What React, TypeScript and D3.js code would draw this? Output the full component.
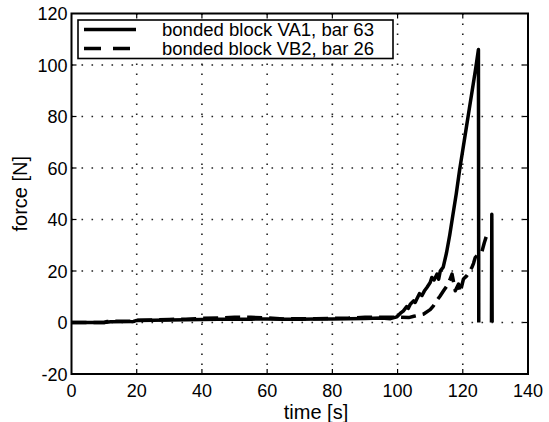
import React, { useEffect, useRef } from 'react';
import * as d3 from 'd3';

// VA1, bar 63 (solid)
const timeVA1 = [0, 6, 10, 12, 19, 20, 25, 30, 35, 40, 45, 50, 55, 60, 65, 70, 75, 80, 85, 90, 95, 97.8,
  99.8, 100.8, 101.8, 102.8, 103.3, 103.9, 104.9, 105.4, 105.9, 106.7, 107.5, 108.2, 109, 110, 110.5, 111.2, 112.1, 112.6, 113.1,
  114, 115, 116, 117, 118, 119, 120, 121, 122, 123, 124, 124.8, 124.9];
const forceVA1 = [0, 0, 0, 0.3, 0.4, 0.8, 0.9, 1.0, 1.1, 1.2, 1.3, 1.3, 1.3, 1.4, 1.3, 1.3, 1.4, 1.4, 1.5, 1.6, 1.7, 1.5,
  2.2, 3.5, 4.5, 6.2, 5.5, 7.1, 8.4, 7.8, 9.1, 11.2, 10.5, 12.2, 13.6, 15.5, 17.5, 16.5, 18.8, 16.8, 20,
  21.5, 27, 34, 42, 50, 59, 67, 75, 83, 91, 99, 106, 0];

// VB2, bar 26 (dashed), NaN = gap
const timeVB2 = [0, 10, 11, 15, 19, 20, 25, 30, 35, 40, 45, 50, 55, 60, 65, 70, 75, 80, 85, 90, 95, 98, 100,
  103.4, 105, 107, 108, 110, 111, 112, 113, 114.1, 115, 116, 116.7, 117.7, 118.7, 119.2, 120.2, 121.2, 122.8,
  123.3, 123.8, 124.8, 125.8, 126.6, 127.6, NaN, 128.8, 128.9, 129];
const forceVB2 = [0, 0, 0.4, 0.5, 0.5, 0.9, 1.0, 1.2, 1.3, 1.6, 1.7, 2.0, 2.0, 1.8, 1.4, 1.5, 1.5, 1.6, 1.7, 2.0, 2.0, 2.0, 2.1,
  1.9, 2.4, 3.0, 3.3, 5.0, 6.5, 8.5, 10.2, 12.3, 14, 16.5, 18.8, 12.3, 14.9, 11.7, 16.9, 18.1, 21.4,
  23, 25.2, 26.6, 27.2, 31, 35, NaN, 0, 42, 0];

const xTicks = [0, 20, 40, 60, 80, 100, 120, 140];
const yTicks = [-20, 0, 20, 40, 60, 80, 100, 120];
const legendLabels = ['bonded block VA1, bar 63', 'bonded block VB2, bar 26'];

const W = 549;
const H = 422;
const font = '"Liberation Sans", Arial, sans-serif';

// split a series at NaN gaps
const segments = (ts: number[], fs: number[]) => {
  const out: [number, number][][] = [[]];
  ts.forEach((t, i) => {
    if (isNaN(t) || isNaN(fs[i])) out.push([]);
    else out[out.length - 1].push([t, fs[i]]);
  });
  return out.filter(s => s.length);
};

const App = () => {
  const ref = useRef<SVGSVGElement | null>(null);

  useEffect(() => {
    const svg = d3.select(ref.current);
    svg.selectAll('*').remove();

    const x = d3.scaleLinear().domain([0, 140]).range([71.5, 528]);
    const y = d3.scaleLinear().domain([-20, 120]).range([374, 13.5]);
    const [x0, x1] = x.range();
    const [y0, y1] = y.range();

    // dotted grid
    const grid = svg.append('g')
      .attr('stroke', '#222')
      .attr('stroke-width', 1.6)
      .attr('stroke-dasharray', '1.6,8.4');
    grid.selectAll('line.gx')
      .data(xTicks.slice(1, -1))
      .enter().append('line')
      .attr('x1', d => x(d)).attr('x2', d => x(d))
      .attr('y1', y1).attr('y2', y0);
    grid.selectAll('line.gy')
      .data(yTicks.slice(1, -1))
      .enter().append('line')
      .attr('x1', x0).attr('x2', x1)
      .attr('y1', d => y(d)).attr('y2', d => y(d));

    const line = d3.line<[number, number]>()
      .x(d => x(d[0]))
      .y(d => y(d[1]));

    // dashed series; the last short piece reads as solid in the original
    const vb = segments(timeVB2, forceVB2);
    vb.forEach((seg, i) => {
      svg.append('path')
        .attr('d', line(seg))
        .attr('fill', 'none')
        .attr('stroke', '#000')
        .attr('stroke-width', 3.5)
        .attr('stroke-dasharray', i === vb.length - 1 ? null : '15,7')
        .attr('stroke-linejoin', 'round');
    });

    segments(timeVA1, forceVA1).forEach(seg => {
      svg.append('path')
        .attr('d', line(seg))
        .attr('fill', 'none')
        .attr('stroke', '#000')
        .attr('stroke-width', 3.5)
        .attr('stroke-linejoin', 'round');
    });

    // axes (inward ticks on all sides)
    const tick = 5;
    const axes = svg.append('g').attr('stroke', '#000').attr('stroke-width', 1.2);
    axes.selectAll('line.tb')
      .data(xTicks.slice(1, -1))
      .enter().append('line')
      .attr('x1', d => x(d)).attr('x2', d => x(d))
      .attr('y1', y0).attr('y2', y0 - tick);
    axes.selectAll('line.tt')
      .data(xTicks.slice(1, -1))
      .enter().append('line')
      .attr('x1', d => x(d)).attr('x2', d => x(d))
      .attr('y1', y1).attr('y2', y1 + tick);
    axes.selectAll('line.tl')
      .data(yTicks.slice(1, -1))
      .enter().append('line')
      .attr('x1', x0).attr('x2', x0 + tick)
      .attr('y1', d => y(d)).attr('y2', d => y(d));
    axes.selectAll('line.tr')
      .data(yTicks.slice(1, -1))
      .enter().append('line')
      .attr('x1', x1).attr('x2', x1 - tick)
      .attr('y1', d => y(d)).attr('y2', d => y(d));

    svg.append('rect')
      .attr('x', x0).attr('y', y1)
      .attr('width', x1 - x0).attr('height', y0 - y1)
      .attr('fill', 'none')
      .attr('stroke', '#000')
      .attr('stroke-width', 2);

    // tick labels
    svg.append('g')
      .selectAll('text')
      .data(xTicks)
      .enter().append('text')
      .attr('x', d => x(d))
      .attr('y', y0 + 23)
      .attr('text-anchor', 'middle')
      .attr('font-family', font)
      .attr('font-size', 18)
      .text(d => d);

    svg.append('g')
      .selectAll('text')
      .data(yTicks)
      .enter().append('text')
      .attr('x', x0 - 4)
      .attr('y', d => y(d) + 6.5)
      .attr('text-anchor', 'end')
      .attr('font-family', font)
      .attr('font-size', 18)
      .text(d => d);

    svg.append('text')
      .attr('x', 316)
      .attr('y', 419)
      .attr('text-anchor', 'middle')
      .attr('font-family', font)
      .attr('font-size', 20)
      .text('time [s]');

    svg.append('text')
      .attr('transform', `translate(27,${(y0 + y1) / 2}) rotate(-90)`)
      .attr('text-anchor', 'middle')
      .attr('font-family', font)
      .attr('font-size', 20)
      .text('force [N]');

    // legend
    const lg = svg.append('g');
    lg.append('rect')
      .attr('x', 78).attr('y', 20)
      .attr('width', 315).attr('height', 38.5)
      .attr('fill', '#fff')
      .attr('stroke', '#000')
      .attr('stroke-width', 1.6);
    legendLabels.forEach((label, i) => {
      const ly = 29.5 + i * 19;
      lg.append('line')
        .attr('x1', 84).attr('x2', 136)
        .attr('y1', ly).attr('y2', ly)
        .attr('stroke', '#000')
        .attr('stroke-width', 3.5)
        .attr('stroke-dasharray', i === 1 ? '17,12' : null);
      lg.append('text')
        .attr('x', 162)
        .attr('y', ly + 6)
        .attr('font-family', font)
        .attr('font-size', 17.5)
        .attr('textLength', 212)
        .attr('lengthAdjust', 'spacingAndGlyphs')
        .text(label);
    });
  }, []);

  return (
    <svg
      ref={ref}
      width={W}
      height={H}
      style={{ position: 'absolute', left: 0, top: 0, background: '#fff' }}
    />
  );
};

export default App;
